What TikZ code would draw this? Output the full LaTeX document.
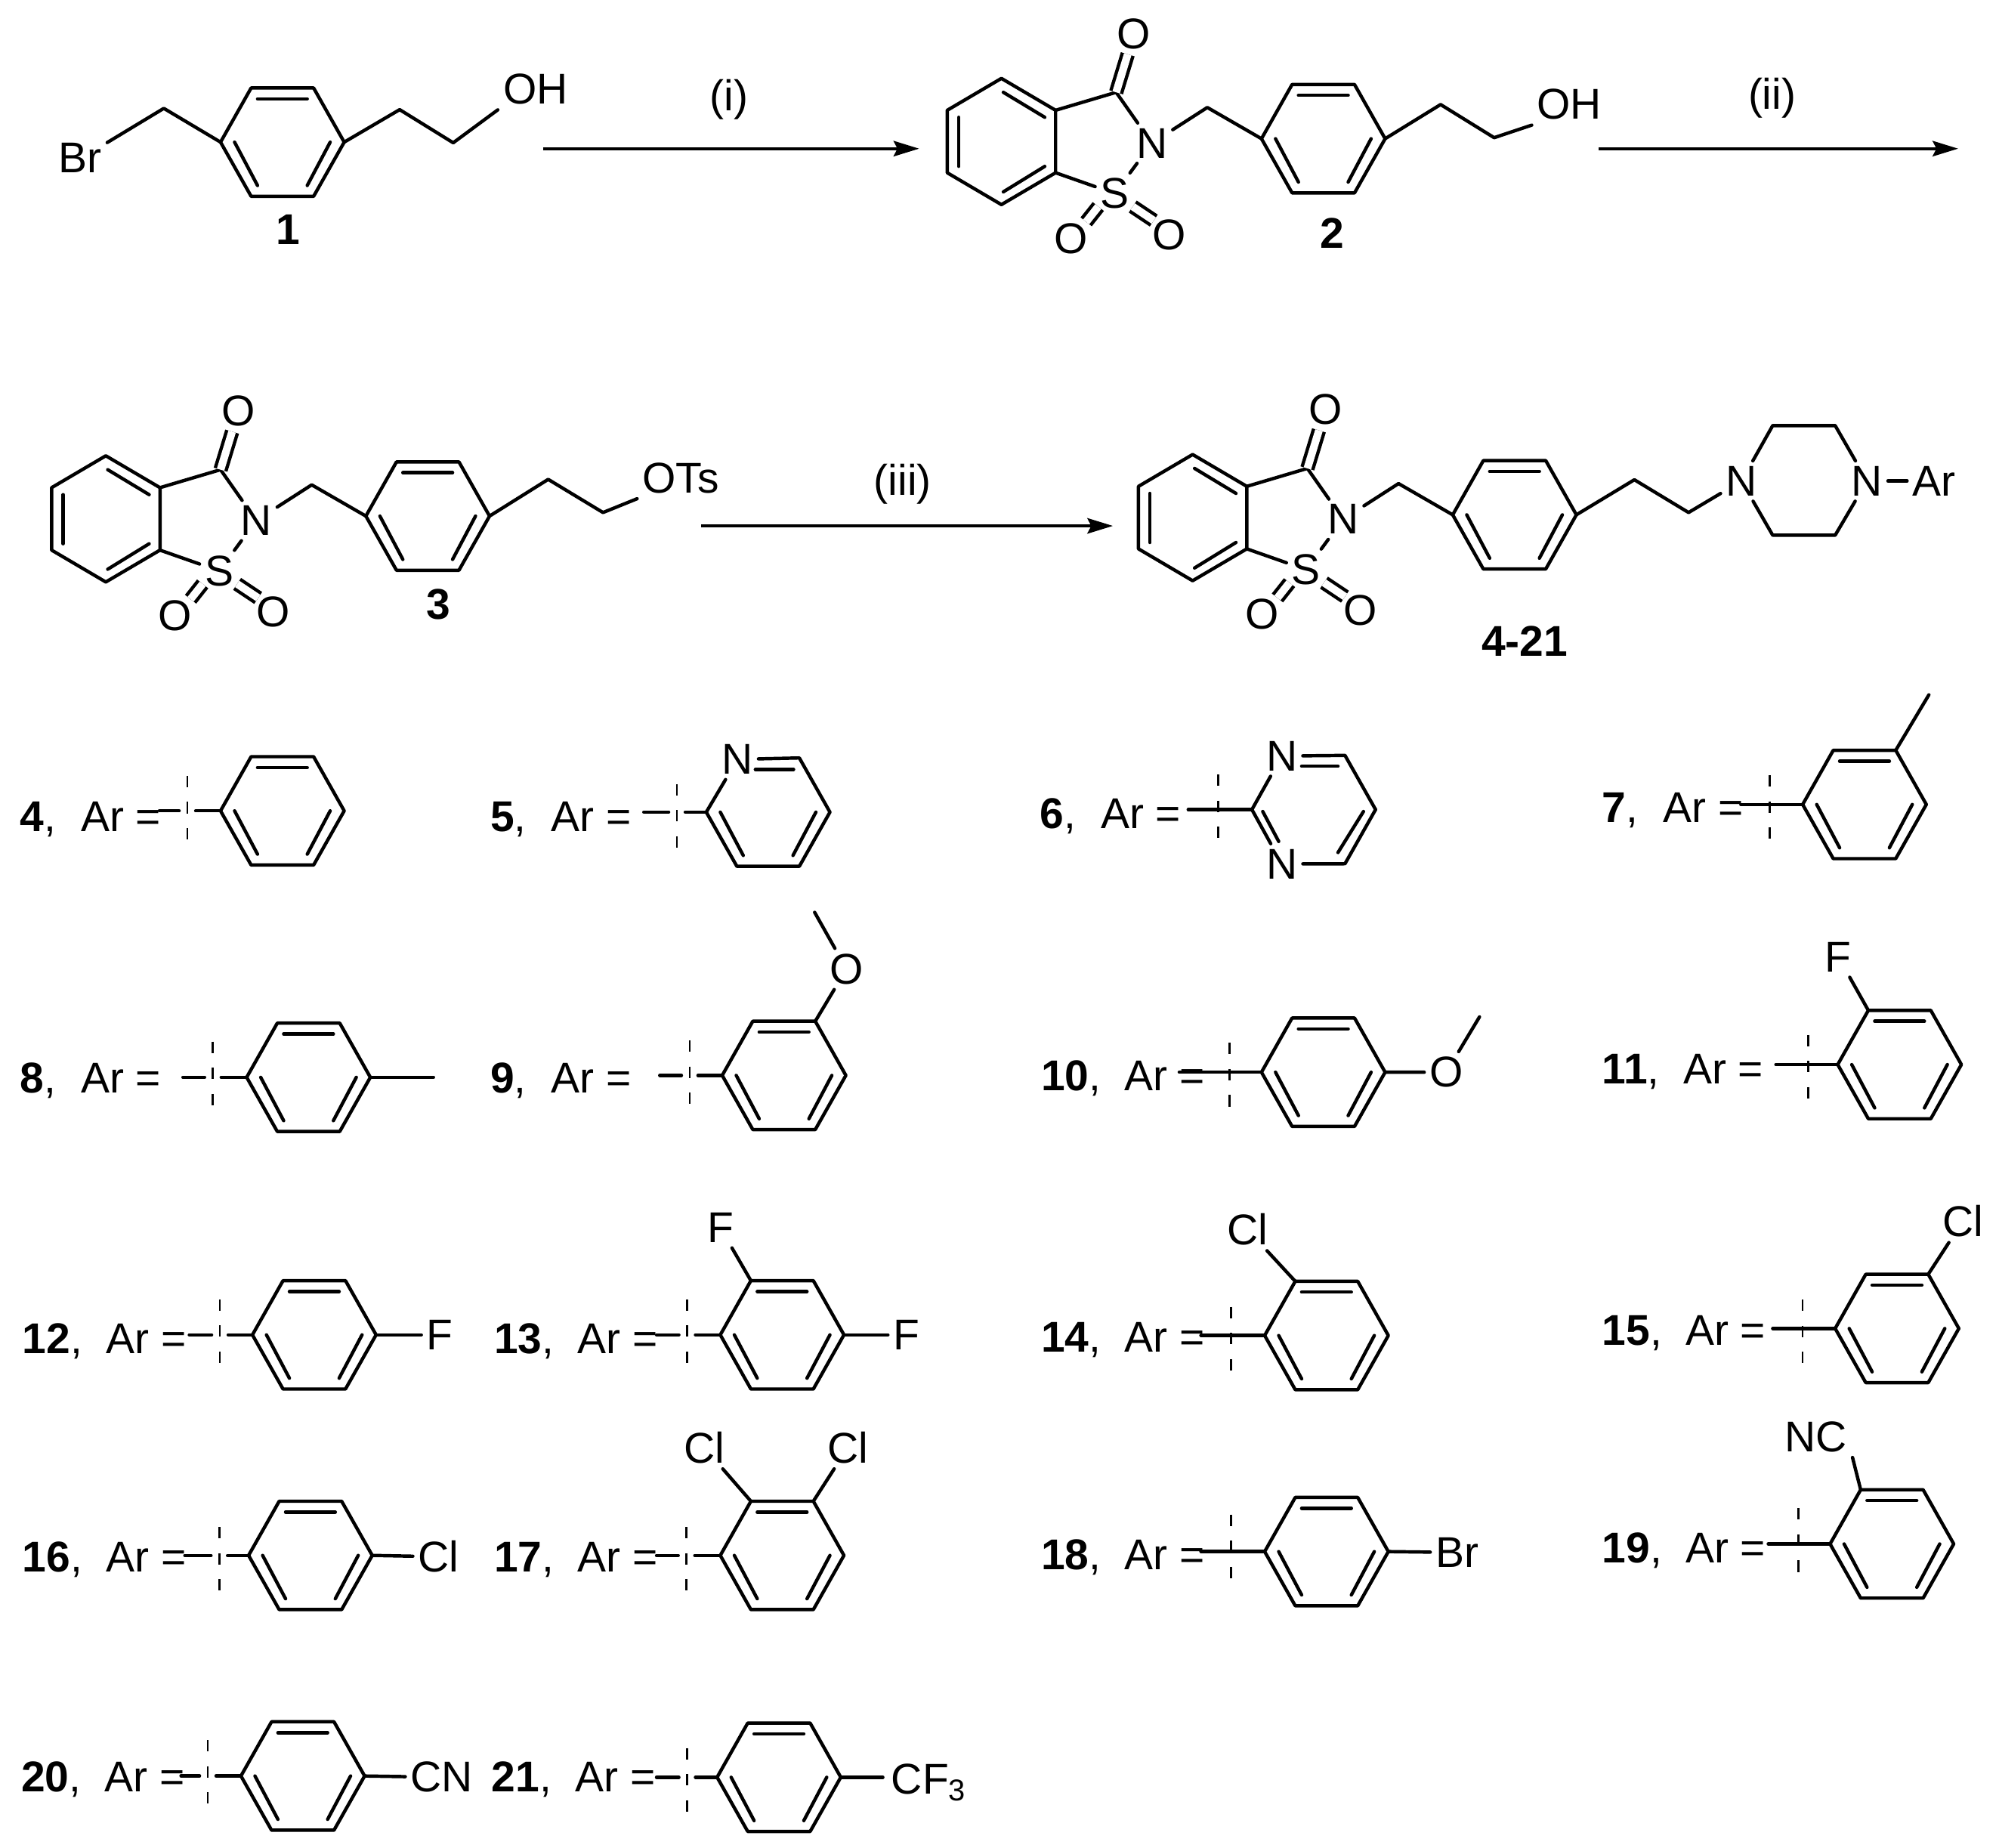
\documentclass[tikz,border=0pt]{standalone}
\usepackage{fontspec}
\setmainfont{Liberation Sans}
\usepackage{tikz}
\usetikzlibrary{arrows.meta}
\usetikzlibrary{positioning}
\newcommand{\chemfont}{\fontsize{9.6pt}{12pt}\selectfont}
\tikzset{bond/.style = {line width = 0.75pt, line cap = round, line join = round}}
\tikzset{dbl/.style = {line width = 0.75pt, double, double distance = 0.06cm}}
\tikzset{cutline/.style = {line width = 0.45pt, dash pattern = on 2.55pt off 3.27pt}}
\tikzset{rxn/.style = {line width = 0.75pt, -{Stealth[length = 0.2cm, width = 0.12cm, inset = 0.03cm]}}}
\tikzset{atom/.style = {inner sep = 1pt}}
\tikzset{cmpd/.style = {font = \chemfont\bfseries, inner sep = 0}}
\tikzset{tagtext/.style = {anchor = base west, inner sep = 0}}

\newcommand{\artag}[1]{\textbf{#1},\hspace{0.58em}Ar =}
\newcommand{\artagb}[1]{\textbf{#1},\hspace{0.55em}Ar =}
\newcommand{\ringpts}[3]{
  \def\ringy{#3}
  \coordinate (#1a) at (#2 - 48.5, #3);
  \coordinate (#1b) at (#2 - 24.5, #3 - 42.5);
  \coordinate (#1c) at (#2 + 24.5, #3 - 42.5);
  \coordinate (#1d) at (#2 + 48.5, #3);
  \coordinate (#1e) at (#2 + 24.5, #3 + 42.5);
  \coordinate (#1f) at (#2 - 24.5, #3 + 42.5);
}
\newcommand{\aryl}[3]{
  \ringpts{#1}{#2}{#3}
  \draw [bond] (#1a) -- (#1b) -- (#1c) -- (#1d) -- (#1e) -- (#1f) -- cycle;
  \draw [bond] (#2 - 19.5, #3 - 34) -- (#2 + 19.5, #3 - 34);
  \draw [bond] (#2 - 37.5, #3) -- (#2 - 19.5, #3 + 34);
  \draw [bond] (#2 + 37.5, #3) -- (#2 + 19.5, #3 + 34);
}
\newcommand{\cutgap}[4]{
  \coordinate (#1s) at (#2, \ringy);
  \draw [bond] (#1s) -- (#3 - 6.5, \ringy);
  \draw [bond] (#3 + 6.5, \ringy) -- (#1a);
  \draw [cutline] (#3, #4) -- (#3, #4 + 50);
}
\newcommand{\cutfull}[4]{
  \coordinate (#1s) at (#2, \ringy);
  \draw [bond] (#1s) -- (#1a);
  \draw [cutline] (#3, #4) -- (#3, #4 + 50);
}
\newcommand{\sacch}[3]{
  \begin{scope}[shift = {(#2, #3)}]
    \draw [bond] (-42.5, -24.5) -- (0, -49.5) -- (42.5, -24.5) -- (42.5, 24.5) -- (0, 49.5) -- (-42.5, 24.5) -- cycle;
    \draw [bond] (-33.5, -19) -- (-33.5, 19.5);
    \draw [bond] (1.5, -38.6) -- (34, -19);
    \draw [bond] (1.5, 39.5) -- (34, 19.5);
    \coordinate (#1co) at (90, -38.6);
    \coordinate (#1ch) at (161.5, -26.7);
    \coordinate (#1sa) at (76, 51);
    \coordinate (#1sb) at (66.5, 63);
    \coordinate (#1sc) at (103, 51);
    \coordinate (#1sd) at (119.5, 62);
    \node [atom] (#1o) at (104, -84.6) {O};
    \node [atom] (#1n) at (118, 1.3) {N};
    \node [atom] (#1s) at (89, 40.8) {S};
    \node [atom] (#1ol) at (54.5, 76) {O};
    \node [atom] (#1or) at (131.5, 73) {O};
    \draw [bond] (42.5, -24.5) -- (#1co) -- (#1n);
    \draw [dbl] (#1co) -- (#1o);
    \draw [bond] (#1n) -- (#1s);
    \draw [bond] (42.5, 24.5) -- (#1s);
    \draw [dbl] (#1sa) -- (#1sb);
    \draw [dbl] (#1sc) -- (#1sd);
    \aryl{#1r}{252.5}{-2.2}
    \draw [bond] (#1n) -- (#1ch) -- (#1ra);
  \end{scope}
}

\begin{document}
\begin{tikzpicture}[x = 0.01cm, y = -0.01cm, font = \chemfont]
  \useasboundingbox (0, 0) rectangle (1568, 1449);

  \aryl{ra}{221.5}{111.5}
  \node [atom] (bra) at (63, 124) {Br};
  \node [atom] (oha) at (420, 70) {OH};
  \coordinate (cha) at (128.5, 85);
  \coordinate (chb) at (313.5, 86);
  \coordinate (chc) at (355.5, 112);
  \draw [bond] (bra.30) -- (cha) -- (raa);
  \draw [bond] (rad) -- (chb) -- (chc) -- (oha.south west);
  \node [cmpd] (cone) at (226, 180) {1};

  \coordinate (ara) at (426, 116.6);
  \coordinate (arb) at (721, 116.6);
  \draw [rxn] (ara) -- (arb);
  \node (stepi) at (572, 78) {(i)};

  \sacch{sa}{785.5}{111}
  \coordinate (chd) at (1130, 82);
  \coordinate (che) at (1172, 108);
  \node [atom] (ohb) at (1231, 82) {OH};
  \draw [bond] (sard) -- (chd) -- (che) -- (ohb.south west);
  \node [cmpd] (ctwo) at (1045, 183) {2};

  \coordinate (arc) at (1254, 116.6);
  \coordinate (ard) at (1536, 116.6);
  \draw [rxn] (arc) -- (ard);
  \node (stepii) at (1390, 77) {(ii)};

  \sacch{sb}{83}{407}
  \coordinate (chf) at (430, 376);
  \coordinate (chg) at (473, 402);
  \node [atom] (ots) at (534, 375) {OTs};
  \draw [bond] (sbrd) -- (chf) -- (chg) -- (ots.south west);
  \node [cmpd] (cthree) at (344, 474) {3};

  \coordinate (are) at (550, 412.5);
  \coordinate (arf) at (873, 412.5);
  \draw [rxn] (are) -- (arf);
  \node (stepiii) at (708, 380) {(iii)};

  \sacch{sc}{935.5}{406}
  \coordinate (chh) at (1282, 376.3);
  \coordinate (chi) at (1324.5, 402);
  \node [atom] (npa) at (1366, 377.3) {N};
  \node [atom] (npb) at (1464.5, 377.3) {N};
  \node [atom] (arg) at (1517, 377.3) {Ar};
  \coordinate (pza) at (1390.5, 333.8);
  \coordinate (pzb) at (1439.5, 333.8);
  \coordinate (pzc) at (1390.5, 419.8);
  \coordinate (pzd) at (1439.5, 419.8);
  \draw [bond] (scrd) -- (chh) -- (chi) -- (npa);
  \draw [bond] (npa) -- (pza) -- (pzb) -- (npb);
  \draw [bond] (npa) -- (pzc) -- (pzd) -- (npb);
  \draw [bond] (npb) -- (arg);
  \node [cmpd] (cfam) at (1196, 503) {4-21};

  \node [tagtext] (tf) at (15, 652) {\artag{4}};
  \aryl{rf}{221.5}{636}
  \cutgap{rf}{125}{147}{608.5}

  \node [tagtext] (tg) at (384, 652) {\artag{5}};
  \ringpts{rg}{602.5}{637}
  \node [atom] (ng) at (578.5, 595.6) {N};
  \draw [bond] (rga) -- (ng);
  \draw [bond] (ng) -- (rgc) -- (rgd) -- (rge) -- (rgf) -- (rga);
  \draw [bond] (592.5, 603.5) -- (622.5, 603.5);
  \draw [bond] (565, 637) -- (583, 671);
  \draw [bond] (640, 637) -- (622, 671);
  \cutgap{rg}{505}{531}{615}

  \node [tagtext] (th) at (815, 650) {\artag{6}};
  \ringpts{rh}{1030.5}{635}
  \node [atom] (nha) at (1005.5, 593) {N};
  \node [atom] (nhb) at (1005.5, 677.6) {N};
  \draw [bond] (rha) -- (nha);
  \draw [bond] (rha) -- (nhb);
  \draw [bond] (nha) -- (rhc) -- (rhd) -- (rhe) -- (nhb);
  \draw [bond] (1021, 601) -- (1049.5, 601);
  \draw [bond] (990.5, 636.5) -- (1003, 660);
  \draw [bond] (1069.5, 636.5) -- (1049.5, 668.7);
  \cutfull{rh}{932}{955.5}{607.5}

  \node [tagtext] (ti) at (1256, 645) {\artag{7}};
  \aryl{ri}{1462.5}{631}
  \cutfull{ri}{1365.5}{1388}{608}
  \coordinate (mei) at (1513, 545);
  \draw [bond] (ric) -- (mei);

  \node [tagtext] (tj) at (15, 857) {\artag{8}};
  \aryl{rj}{242}{845}
  \cutgap{rj}{143.5}{167}{817}
  \coordinate (mej) at (340, 845);
  \draw [bond] (rjd) -- (mej);

  \node [tagtext] (tk) at (384, 857) {\artag{9}};
  \aryl{rk}{615}{843.5}
  \cutgap{rk}{517.5}{541}{816}
  \node [atom] (ok) at (664, 760) {O};
  \coordinate (mek) at (639, 715.6);
  \draw [bond] (rkc) -- (ok) -- (mek);

  \node [tagtext] (tl) at (816, 855.5) {\artagb{10}};
  \aryl{rl}{1038}{841}
  \cutfull{rl}{925}{964.5}{818}
  \node [atom] (ol) at (1134.5, 841) {O};
  \coordinate (mel) at (1160.5, 797.6);
  \draw [bond] (rld) -- (ol) -- (mel);

  \node [tagtext] (tm) at (1256, 850) {\artagb{11}};
  \aryl{rm}{1490}{835}
  \cutfull{rm}{1393}{1418.5}{811.6}
  \node [atom] (fm) at (1442, 750.7) {F};
  \draw [bond] (rmb) -- (fm);

  \node [tagtext] (tn) at (17, 1061.8) {\artagb{12}};
  \aryl{rn}{246.5}{1047}
  \cutgap{rn}{148.5}{172.5}{1019}
  \node [atom] (fn) at (345, 1047) {F};
  \draw [bond] (rnd) -- (fn);

  \node [tagtext] (to) at (387, 1061.8) {\artagb{13}};
  \aryl{ro}{613.5}{1047}
  \cutgap{ro}{515}{539}{1019}
  \node [atom] (foa) at (565, 963) {F};
  \node [atom] (fob) at (711, 1047) {F};
  \draw [bond] (rob) -- (foa);
  \draw [bond] (rod) -- (fob);

  \node [tagtext] (tp) at (816, 1060.4) {\artagb{14}};
  \aryl{rp}{1040.5}{1047.5}
  \cutfull{rp}{942}{965.5}{1025}
  \node [atom] (clp) at (978.5, 964.4) {Cl};
  \draw [bond] (rpb) -- (clp);

  \node [tagtext] (tq) at (1256, 1055) {\artagb{15}};
  \aryl{rq}{1488}{1042}
  \cutfull{rq}{1390.5}{1414}{1019.3}
  \node [atom] (clq) at (1539.5, 958) {Cl};
  \draw [bond] (rqc) -- (clq);

  \node [tagtext] (tr) at (17, 1233) {\artagb{16}};
  \aryl{rr}{243.5}{1220}
  \cutgap{rr}{145}{172}{1197.7}
  \node [atom] (clr) at (344, 1221) {Cl};
  \draw [bond] (rrd) -- (clr);

  \node [tagtext] (ts) at (387, 1233) {\artagb{17}};
  \aryl{rs}{613.5}{1220}
  \cutgap{rs}{515}{538.5}{1197.7}
  \node [atom] (clsa) at (552.5, 1135.5) {Cl};
  \node [atom] (clsb) at (665, 1135.5) {Cl};
  \draw [bond] (rsb) -- (clsa);
  \draw [bond] (rsc) -- (clsb);

  \node [tagtext] (tt) at (816, 1231) {\artagb{18}};
  \aryl{rt}{1040.5}{1217}
  \cutfull{rt}{942}{965.5}{1188}
  \node [atom] (brt) at (1143, 1217.7) {Br};
  \draw [bond] (rtd) -- (brt);

  \node [tagtext] (tu) at (1256, 1226) {\artagb{19}};
  \aryl{ru}{1484}{1211}
  \cutfull{ru}{1387}{1410.5}{1183}
  \node [atom] (ncu) at (1424.5, 1127) {NC};
  \draw [bond] (rub) -- (ncu.south east);

  \node [tagtext] (tv) at (16, 1405.6) {\artagb{20}};
  \aryl{rv}{237.5}{1393}
  \cutgap{rv}{142}{163}{1364.8}
  \node [atom] (cnv) at (346.5, 1394) {CN};
  \draw [bond] (rvd) -- (cnv);

  \node [tagtext] (tw) at (385, 1405.6) {\artagb{21}};
  \aryl{rw}{611}{1394}
  \cutgap{rw}{515}{539}{1371}
  \node [tagtext] (cfw) at (698.5, 1407) {CF\textsubscript{3}};
  \coordinate (cfb) at (692.5, 1394);
  \draw [bond] (rwd) -- (cfb);
\end{tikzpicture}
\end{document}
